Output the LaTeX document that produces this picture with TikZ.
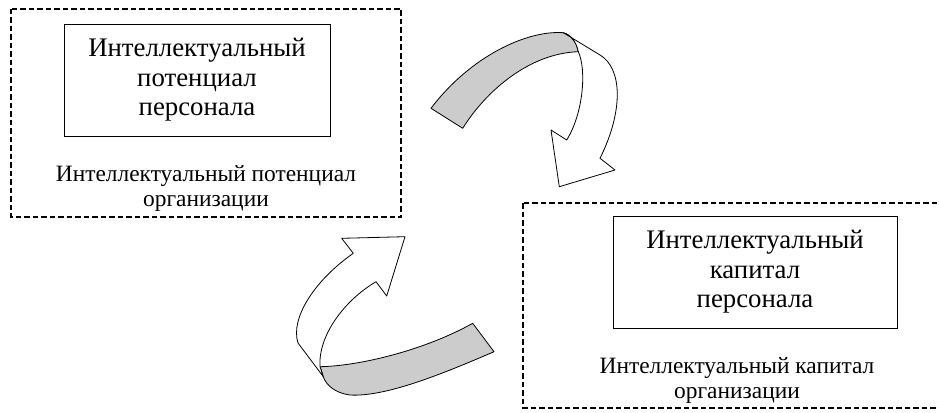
\documentclass[tikz,border=0pt]{standalone}
\usepackage{fontspec}
\setmainfont{Liberation Serif}
\begin{document}
\begin{tikzpicture}[x=1pt,y=-1pt,
  zonebox/.style={draw,line width=1.6pt,dash pattern=on 5.5pt off 3pt},
  corebox/.style={draw,line width=0.9pt,minimum width=266pt,minimum height=112pt,
    align=center,inner sep=0pt,font=\fontsize{26.8}{29.5}\selectfont},
  caption/.style={align=center,inner sep=0pt,font=\fontsize{23.4}{25}\selectfont},
  ribbon/.style={draw,line width=0.8pt,line join=round},
  shade/.style={ribbon,fill=black!20},
  plain/.style={ribbon,fill=white}]
\useasboundingbox (0,0) rectangle (939,412);

% upper zone: potential
\draw[zonebox] (11,9) rectangle (401,217);
\node[corebox] (potpers) at (197,80) {Интеллектуальный\\потенциал\\персонала};
\node[caption] (potorg) at (206,188.5) {Интеллектуальный потенциал\\организации};

% lower zone: capital (runs off the right edge)
\draw[zonebox] (523,203) rectangle (950,408);
\node[corebox,minimum width=284pt] (cappers) at (755,272) {Интеллектуальный\\капитал\\персонала};
\node[caption] (caporg) at (737,380.5) {Интеллектуальный капитал\\организации};

% twisted ribbon arrow, top: potential -> capital
\draw[shade] (431,108.3) .. controls (470,56.7) and (526.7,30) .. (563.3,32.7)
  .. controls (571.7,35) and (576.7,43.3) .. (578.3,51.7)
  .. controls (530,53.3) and (486.7,90) .. (462.7,128.3) -- cycle;
\draw[plain] (563.3,32.7) -- (600,55) .. controls (622,68) and (624,110) .. (600,158.3)
  -- (615,170) -- (559.3,186.7) -- (551,130) -- (566.7,140)
  .. controls (583.3,113.3) and (586.7,70) .. (578.3,51.7)
  .. controls (576.7,43.3) and (571.7,35) .. (563.3,32.7) -- cycle;

% twisted ribbon arrow, bottom: capital -> potential
\draw[shade] (472.7,323.3) -- (494,351.7)
  .. controls (440,375) and (385,397) .. (350,395)
  .. controls (335,393) and (326,385) .. (323.3,376.7)
  .. controls (321,372) .. (320,366.7)
  .. controls (360,366) and (425,350) .. (472.7,323.3) -- cycle;
\draw[plain] (320,366.7) .. controls (318,335) and (345,300) .. (376,281.7)
  -- (386.7,296) -- (405,236.7) -- (341.7,238.3) -- (353.3,253.3)
  .. controls (315,280) and (290,318) .. (298,343) -- (323.3,376.7)
  .. controls (321,372) .. (320,366.7) -- cycle;
\end{tikzpicture}
\end{document}
